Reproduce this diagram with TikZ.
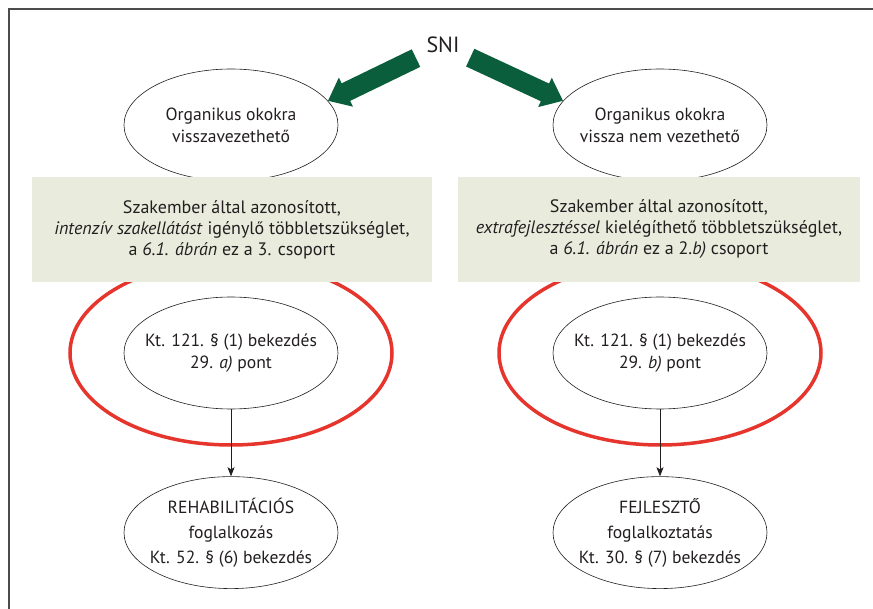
\documentclass[tikz,border=0pt]{standalone}
\usepackage{fontspec}
\setmainfont{PT Sans}
\usetikzlibrary{arrows.meta,positioning,shapes.geometric}
\definecolor{snigreen}{HTML}{0B5E3B}
\definecolor{boxfill}{HTML}{E9ECDD}
\definecolor{ringred}{HTML}{E5352C}
\definecolor{ink}{HTML}{231F20}

\begin{document}
\begin{tikzpicture}[
    x=1pt,y=-1pt,
    oval/.style={draw=ink,ellipse,line width=0.6pt,fill=white,minimum width=214pt,
                 minimum height=112pt,inner xsep=-30pt,inner ysep=0pt,align=center,
                 font=\fontsize{17.6}{22}\selectfont,text=ink},
    ring/.style={draw=ringred,ellipse,line width=3.5pt,minimum width=322pt,minimum height=184pt},
    infobox/.style={fill=boxfill,minimum width=400pt,minimum height=105pt,align=center,
                    font=\fontsize{18}{21}\selectfont,text=ink},
    bigarr/.style={-{Triangle[length=20pt,width=31pt]},line width=19.5pt,snigreen},
    arr/.style={-{Stealth[length=9pt,width=7pt,inset=2pt]},line width=0.7pt,ink}
  ]
    \useasboundingbox (0,0) rectangle (873,609);
    \draw[line width=1.1pt,black!70] (9,609) -- (9,9) -- (873,9);

    \node[font=\fontsize{22}{26}\selectfont,text=ink] (sni) at (443,45) {SNI};

    \node[oval] (orgl) at (231,125) {Organikus okokra\\visszavezethető};
    \node[oval] (orgr) at (660,125) {Organikus okokra\\vissza nem vezethető};

    \node[ring] (ringl) at (231,353) {};
    \node[ring] (ringr) at (660,353) {};

    \node[infobox] (boxl) at (232,229.5) {Szakember által azonosított,\\
      \textit{intenzív szakellátást} igénylő többletszükséglet,\\
      a \textit{6.1. ábrán} ez a 3. csoport};
    \node[infobox,minimum width=402pt] (boxr) at (659,229.5) {Szakember által azonosított,\\
      \textit{extrafejlesztéssel} kielégíthető többletszükséglet,\\
      a \textit{6.1. ábrán} ez a 2.\textit{b)} csoport};

    \node[oval] (innl) at (ringl) {Kt. 121. § (1) bekezdés\\29. \textit{a)} pont};
    \node[oval] (innr) at (ringr) {Kt. 121. § (1) bekezdés\\29. \textit{b)} pont};

    \node[oval,below=67pt of innl,font=\fontsize{17.6}{25}\selectfont] (rehab)
      {REHABILITÁCIÓS\\foglalkozás\\Kt. 52. § (6) bekezdés};
    \node[oval,below=67pt of innr,font=\fontsize{17.6}{25}\selectfont] (fejl)
      {FEJLESZTŐ\\foglalkoztatás\\Kt. 30. § (7) bekezdés};

    \draw[bigarr,shorten <=30pt] (sni.center) -- (orgl.14);
    \draw[bigarr,shorten <=30pt] (sni.center) -- (orgr.166);
    \draw[arr] (innl) -- (rehab);
    \draw[arr] (innr) -- (fejl);
  \end{tikzpicture}
\end{document}
